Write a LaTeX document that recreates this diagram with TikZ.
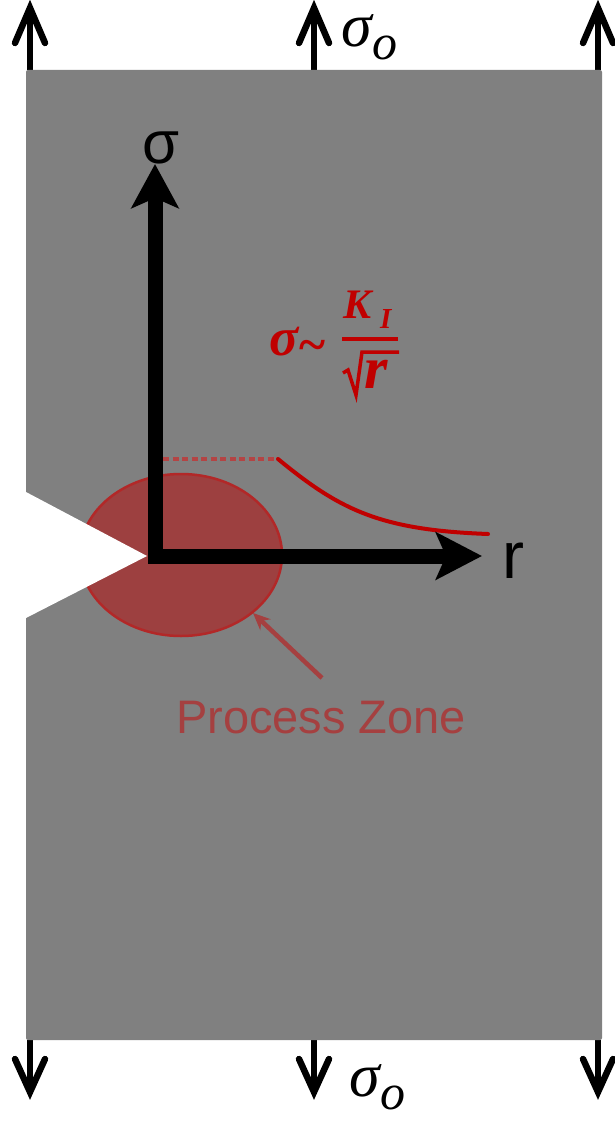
\documentclass[tikz,border=0pt]{standalone}
\usepackage{fontspec}
\newfontfamily\arialf{Liberation Sans}
\newfontfamily\timesf{Liberation Serif}
\usetikzlibrary{arrows.meta}
\definecolor{plate}{RGB}{128,128,128}
\definecolor{curvered}{RGB}{192,0,0}
\definecolor{dotred}{RGB}{180,68,68}
\definecolor{pzfillc}{RGB}{157,64,64}
\definecolor{pzdrawc}{RGB}{178,40,40}
\definecolor{pztext}{RGB}{165,64,64}
\tikzset{
  loadarrow/.style={line width=6pt},
  barb/.style={line width=6.5pt, line cap=round, line join=miter},
  axisline/.style={line width=15pt, line join=miter,
    {Stealth[length=44pt,width=47pt,inset=10pt]}-{Stealth[length=46pt,width=47pt,inset=10pt]}},
  dotline/.style={dotred, line width=4.5pt, dash pattern=on 6pt off 3.5pt},
  stresscurve/.style={curvered, line width=4pt, line cap=round},
  pzarrow/.style={pztext, line width=4.5pt, -{Stealth[length=17pt,width=15pt]}},
  sigmalabel/.style={inner sep=0pt, anchor=base west},
  ftext/.style={inner sep=0pt, anchor=base west, text=curvered},
  fline/.style={curvered, line width=4pt},
  radical/.style={curvered, line width=3.5pt, line join=miter},
}
\newcommand{\sigO}{{\timesf\itshape\fontsize{62}{62}\selectfont σ}\kern1pt\raisebox{-13pt}{\timesf\itshape\fontsize{50}{50}\selectfont o}}
\begin{document}
\begin{tikzpicture}[x=1pt,y=-1pt]
\useasboundingbox (0,0) rectangle (615,1121);
% load arrows
\coordinate (tl) at (30,70);  \coordinate (tlt) at (30,8);
\coordinate (tm) at (314,70); \coordinate (tmt) at (314,8);
\coordinate (tr) at (598,70); \coordinate (trt) at (598,8);
\coordinate (bl) at (30,1040);  \coordinate (blt) at (30,1092);
\coordinate (bm) at (314,1040); \coordinate (bmt) at (314,1092);
\coordinate (br) at (598,1040); \coordinate (brt) at (598,1092);
\foreach \s/\t in {tl/tlt, tm/tmt, tr/trt}{
  \draw[loadarrow] (\s) -- (\t);
  \draw[barb] (\t) ++(-15,35) -- (\t) -- ++(15,35);
}
\foreach \s/\t in {bl/blt, bm/bmt, br/brt}{
  \draw[loadarrow] (\s) -- (\t);
  \draw[barb] (\t) ++(-15,-33) -- (\t) -- ++(15,-33);
}
% plate
\fill[plate, rounded corners=2pt] (26,70) rectangle (602,1040);
% process zone
\draw[fill=pzfillc, draw=pzdrawc, line width=2.5pt] (181,555) ellipse [x radius=101, y radius=81];
% notch
\fill[white] (18,492) -- (26,492) -- (147,556) -- (26,618) -- (18,618) -- cycle;
% stress curve
\coordinate (d1) at (163,459);
\coordinate (d2) at (278,459);
\coordinate (cend) at (488,534);
\draw[dotline] (d1) -- (d2);
\draw[stresscurve] (d2) .. controls (340,510) and (380,530) .. (cend);
% axes
\coordinate (O) at (155,556);
\coordinate (ytip) at (155,164);
\coordinate (xtip) at (482,556);
\draw[axisline] (ytip) -- (O) -- (xtip);
\node[inner sep=0pt, anchor=base] (sigax) at (161,163) {\arialf\fontsize{60}{60}\selectfont σ};
\node[inner sep=0pt, anchor=base west] (rax) at (502,578) {\arialf\fontsize{66}{66}\selectfont r};
% formula  sigma ~ K_I / sqrt(r)
\node[ftext] (fsig) at (269,355) {\timesf\bfseries\itshape\fontsize{54}{54}\selectfont σ};
\node[ftext] (ftil) at (299,361) {\timesf\bfseries\fontsize{50}{50}\selectfont\textasciitilde};
\coordinate (fb1) at (342,339);
\coordinate (fb2) at (398,339);
\draw[fline] (fb1) -- (fb2);
\node[ftext] (fK) at (343,318) {\timesf\bfseries\itshape\fontsize{42}{42}\selectfont K};
\node[ftext] (fI) at (380,328) {\timesf\bfseries\itshape\fontsize{29}{29}\selectfont I};
\coordinate (rd1) at (343,373);
\coordinate (rd2) at (348,370);
\coordinate (rd3) at (356,395);
\coordinate (rd4) at (362,352);
\coordinate (rd5) at (399,352);
\draw[radical] (rd1) -- (rd2) -- (rd3) -- (rd4) -- (rd5);
\node[ftext] (fr) at (364,388) {\timesf\bfseries\itshape\fontsize{60}{60}\selectfont r};
% process zone label
\node[inner sep=0pt, anchor=base, text=pztext] (pzlabel) at (321,733) {\arialf\fontsize{47}{47}\selectfont Process Zone};
\coordinate (pzs) at (322,678);
\coordinate (pze) at (253,613);
\draw[pzarrow] (pzs) -- (pze);
% sigma_o labels
\node[sigmalabel] (stop) at (341,47) {\sigO};
\node[sigmalabel] (sbot) at (349,1096) {\sigO};
\end{tikzpicture}
\end{document}
